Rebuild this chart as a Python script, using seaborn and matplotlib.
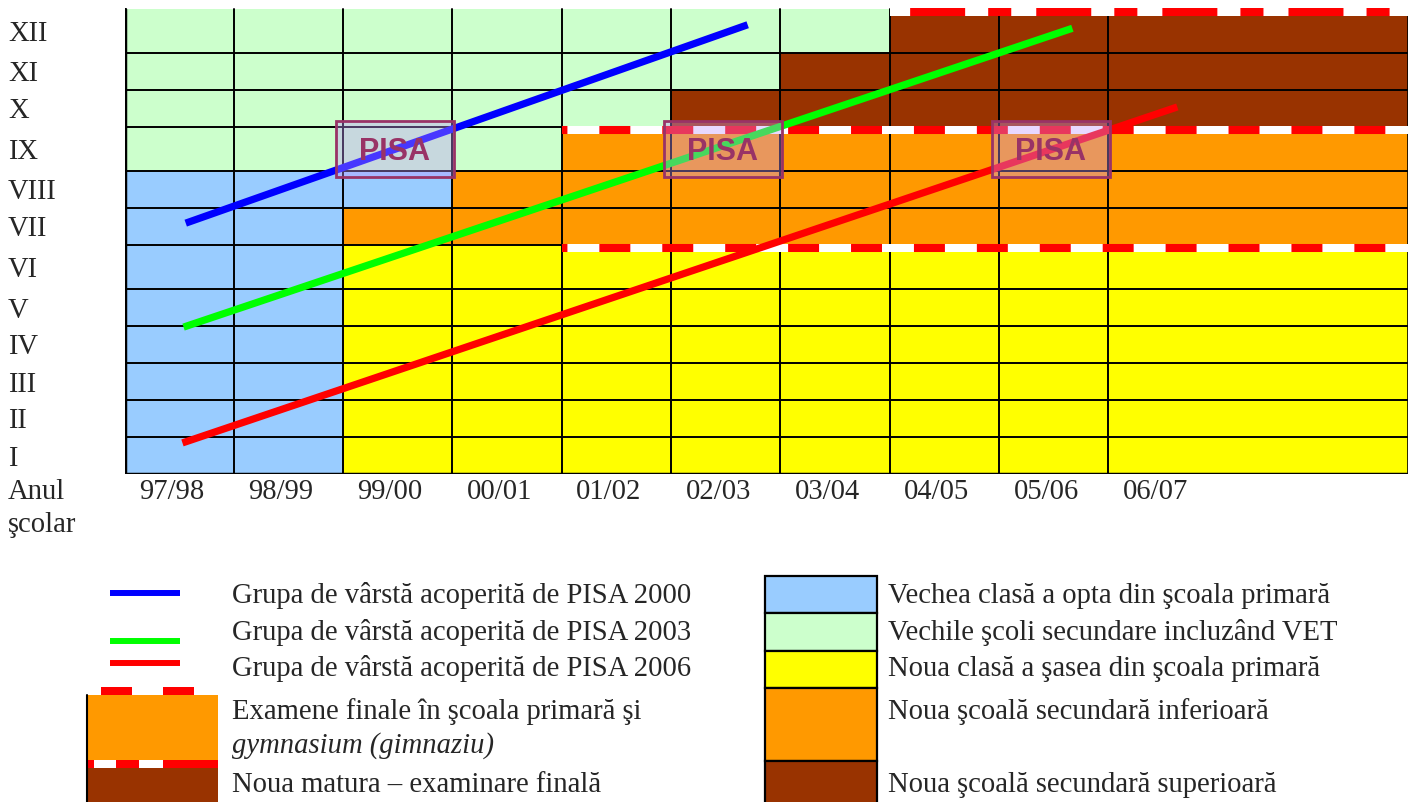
import pandas as pd
import seaborn as sns
import matplotlib.pyplot as plt
from matplotlib.patches import Rectangle

years = ['97/98', '98/99', '99/00', '00/01', '01/02', '02/03', '03/04', '04/05', '05/06', '06/07']
grades = ['I', 'II', 'III', 'IV', 'V', 'VI', 'VII', 'VIII', 'IX', 'X', 'XI', 'XII']

# school type for each grade (row) in each school year (one letter per year)
# b = old 8th primary, g = old secondary, y = new 6th primary, o = new lower sec., r = new upper sec.
school_rows = [
    'bbyyyyyyyy',  # I
    'bbyyyyyyyy',  # II
    'bbyyyyyyyy',  # III
    'bbyyyyyyyy',  # IV
    'bbyyyyyyyy',  # V
    'bbyyyyyyyy',  # VI
    'bboooooooo',  # VII
    'bbbooooooo',  # VIII
    'ggggoooooo',  # IX
    'gggggrrrrr',  # X
    'ggggggrrrr',  # XI
    'gggggggrrr',  # XII
]

# final exams: grade whose upper edge carries the band, first school year
exam_primary = [('VI', '01/02'), ('IX', '01/02')]
exam_matura = [('XII', '04/05')]

# PISA cohorts: (school year position, grade position) at both ends
cohorts = ['PISA 2000', 'PISA 2003', 'PISA 2006']
cohort_x0 = [0.56, 0.54, 0.53]
cohort_g0 = [6.59, 3.97, 0.84]
cohort_x1 = [5.70, 8.67, 9.63]
cohort_g1 = [11.64, 11.56, 9.54]

pisa_years = ['99/00', '02/03', '05/06']

school_colors = {'b': '#99CCFF', 'g': '#CCFFCC', 'y': '#FFFF00', 'o': '#FF9900', 'r': '#993300'}
line_colors = ['#0000FF', '#00FF00', '#FF0000']

legend_lines = ['Grupa de vârstă acoperită de PISA 2000',
                'Grupa de vârstă acoperită de PISA 2003',
                'Grupa de vârstă acoperită de PISA 2006']
legend_exam = ['Examene finale în şcoala primară şi', 'gymnasium (gimnaziu)',
               'Noua matura – examinare finală']
legend_schools = ['Vechea clasă a opta din şcoala primară',
                  'Vechile şcoli secundare incluzând VET',
                  'Noua clasă a şasea din şcoala primară',
                  'Noua şcoală secundară inferioară',
                  'Noua şcoală secundară superioară']

sns.set_style('white')
plt.rcParams['font.family'] = ['Liberation Serif', 'DejaVu Serif']
plt.rcParams['lines.scale_dashes'] = False
FS = 20.6

# layout: rows carrying an exam band are a bit taller, last year column runs to the edge
tall = {g for g, _ in exam_primary + exam_matura}
row_h = [1.19 if g in tall else 1.0 for g in grades]
row_b = [sum(row_h[:i]) for i in range(len(grades))]
col_w = [1.0] * 9 + [2.74]
col_l = [sum(col_w[:i]) for i in range(len(years))]
x_max = sum(col_w)
y_top = sum(row_h)


def grade_y(g):
    i = int(g)
    return row_b[i] + (g - i) * row_h[i]


fig = plt.figure(figsize=(14.14, 8.02), dpi=100)
lax = fig.add_axes([0, 0, 1, 1])
lax.set_xlim(0, 1414)
lax.set_ylim(802, 0)
lax.axis('off')

ax = fig.add_axes([124.5 / 1414, 328 / 802, 1283.5 / 1414, 466.2 / 802])
ax.set_xlim(0, x_max)
ax.set_ylim(0, 12.6)
ax.patch.set_alpha(0)
for s in ax.spines.values():
    s.set_visible(False)

# cells
for r, codes in enumerate(school_rows):
    ax.barh([row_b[r] + row_h[r] / 2] * len(years), col_w, left=col_l, height=row_h[r],
            color=[school_colors[c] for c in codes], linewidth=0, zorder=1)

# grid
for r in range(1, len(grades)):
    ax.plot([0, x_max], [row_b[r], row_b[r]], color='black', lw=1.4, zorder=2)
for c in range(1, len(years)):
    ax.plot([col_l[c], col_l[c]], [0, y_top], color='black', lw=1.4, zorder=2)
ax.plot([0, 0], [0, y_top], color='black', lw=2.5, zorder=2)
ax.plot([0, x_max], [0, 0], color='black', lw=2.5, zorder=2)
ax.plot([x_max, x_max], [0, y_top - 0.2], color='black', lw=1.9, zorder=2)


def exam_band(grade, year, dashes):
    r = grades.index(grade)
    x0 = col_l[years.index(year)]
    top = row_b[r] + row_h[r]
    yc = top - 0.085
    ax.barh(yc, x_max - x0, left=x0, height=0.23, color='white', linewidth=0, zorder=3)
    ax.plot([x0, x_max], [yc, yc], color='#FF0000', lw=5.8, linestyle=dashes,
            dash_capstyle='butt', zorder=3.1)


for g, y in exam_primary:
    exam_band(g, y, (18.4, (22.3, 23.0)))
for g, y in exam_matura:
    exam_band(g, y, (76.3, (39.6, 16.6, 16.6, 18.0)))

# PISA cohort lines
coh = pd.DataFrame({
    'cohort': cohorts + cohorts,
    'x': cohort_x0 + cohort_x1,
    'y': [grade_y(g) for g in cohort_g0 + cohort_g1],
})
sns.lineplot(data=coh, x='x', y='y', hue='cohort', palette=line_colors, linewidth=5.2,
             legend=False, sort=False, estimator=None, solid_capstyle='butt', ax=ax, zorder=4)

# PISA test years
for yr in pisa_years:
    c = col_l[years.index(yr)]
    ax.add_patch(Rectangle((c - 0.065, 8.03), 1.075, 1.51, facecolor=(193 / 255, 150 / 255, 1, 0.37),
                           edgecolor='#993366', lw=2.0, zorder=5))
    ax.text(c - 0.065 + 1.075 / 2, 8.03 + 1.51 / 2 - 0.08, 'PISA', ha='center', va='center',
            fontsize=22, fontweight='bold', family=['Liberation Sans', 'DejaVu Sans'],
            color='#993366', zorder=6)

ax.set_xlabel('')
ax.set_ylabel('')
ax.set_yticks([row_b[i] + row_h[i] / 2 for i in range(len(grades))], grades)
ax.set_xticks([c + 0.43 for c in col_l], years)
ax.tick_params(axis='y', length=0, pad=83.9, labelsize=FS)
ax.tick_params(axis='x', length=0, pad=18, labelsize=FS)
plt.setp(ax.get_yticklabels(), ha='left')
plt.setp(ax.get_xticklabels(), va='baseline')

fig.text(8 / 1414, 1 - 499 / 802, 'Anul', fontsize=FS, va='baseline')
fig.text(8 / 1414, 1 - 532 / 802, 'şcolar', fontsize=FS, va='baseline')

# legend, left block
for col, yy in zip(line_colors, [593, 640.5, 663]):
    lax.plot([110, 180], [yy, yy], color=col, lw=4.3, solid_capstyle='butt')
for txt, yy in zip(legend_lines, [603, 640, 676.5]):
    lax.text(232, yy, txt, fontsize=FS, va='baseline')
lax.add_patch(Rectangle((87, 695), 131, 65, color=school_colors['o'], lw=0))
for xx in [101, 163]:
    lax.add_patch(Rectangle((xx, 687), 31, 8, color='#FF0000', lw=0))
lax.add_patch(Rectangle((87, 760), 131, 8, color='#FF0000', lw=0))
for xx, w in [(94, 22), (139, 24)]:
    lax.add_patch(Rectangle((xx, 760), w, 8, color='white', lw=0))
lax.add_patch(Rectangle((87, 768), 131, 40, color=school_colors['r'], lw=0))
lax.plot([87, 87], [695, 802], color='black', lw=1.5)
lax.text(232, 719, legend_exam[0], fontsize=FS, va='baseline')
lax.text(232, 753, legend_exam[1], fontsize=FS, va='baseline', style='italic')
lax.text(232, 791.5, legend_exam[2], fontsize=FS, va='baseline')

# legend, right block
sw = [('b', 576, 613), ('g', 613, 651), ('y', 651, 688), ('o', 688, 761), ('r', 761, 808)]
for (code, y0, y1) in sw:
    lax.add_patch(Rectangle((765, y0), 112, y1 - y0, facecolor=school_colors[code],
                            edgecolor='black', lw=1.6))
for txt, yy in zip(legend_schools, [603, 640, 676.5, 719, 791.5]):
    lax.text(888, yy, txt, fontsize=FS, va='baseline')

fig.savefig('out.png', dpi=100)
